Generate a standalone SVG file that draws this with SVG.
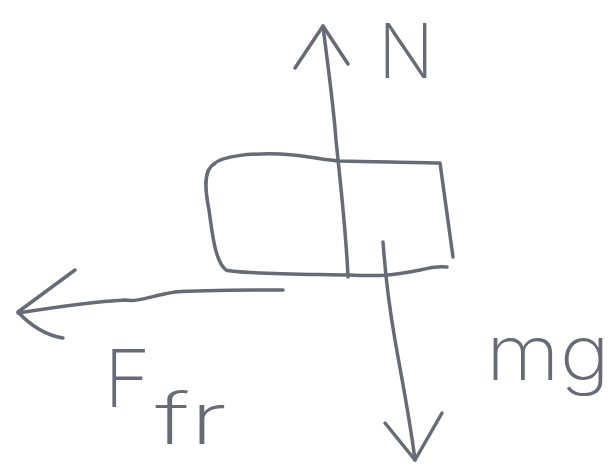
<svg xmlns="http://www.w3.org/2000/svg" width="616" height="473" viewBox="0 0 616 473">
<style>
.ink{fill:none;stroke:#676b75;stroke-width:3.5;stroke-linecap:round;stroke-linejoin:round}
.lbl{font-family:Inter,"Liberation Sans",sans-serif;font-weight:200;fill:#676b75}
</style>
<rect width="616" height="473" fill="#ffffff"/>
<g id="block">
<path class="ink" d="M214,164 C203,170 205,190 209,210 C213,240 216,262 226,270 C240,274 300,274 350,275 C385,277 400,274 420,270 C432,267 440,266 447,267"/>
<path class="ink" d="M214,164 C222,156 250,153 280,154 C305,155 322,160 340,161 C380,162 415,162 440,163 L453,257"/>
</g>
<g id="connectors">
<g id="normal">
<path class="ink" d="M323,26 C327,60 333,100 336,140 C340,180 346,230 348,277"/>
<path class="ink" d="M295,68 L323,26 L348,64"/>
</g>
<g id="weight">
<path class="ink" d="M383,242 C385,270 388,300 395,340 C402,380 410,420 415,460"/>
<path class="ink" d="M385,423 L415,460 L442,413"/>
</g>
<g id="friction">
<path class="ink" d="M283,290 C240,290 200,290 175,292 C150,296 140,302 125,300 C90,302 50,308 18,313"/>
<path class="ink" d="M75,270 L18,312 C30,325 45,335 63,338"/>
</g>
</g>
<g id="labels">
<text class="lbl" x="378" y="78" font-size="76" textLength="56" lengthAdjust="spacingAndGlyphs">N</text>
<text class="lbl" x="104" y="407" font-size="80">F</text>
<text class="lbl" x="155" y="444" font-size="72" textLength="72" lengthAdjust="spacingAndGlyphs">fr</text>
<text class="lbl" x="486" y="380" font-size="76" textLength="124" lengthAdjust="spacingAndGlyphs">mg</text>
</g>
</svg>
